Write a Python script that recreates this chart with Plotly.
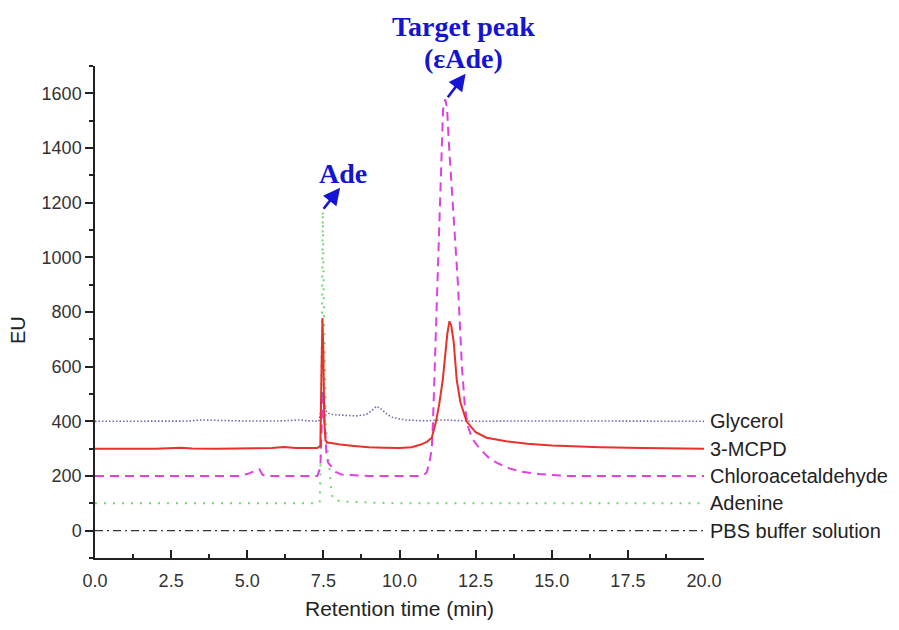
import plotly.graph_objects as go

# ---- data (time in min, signal in EU) ----
pbs_t = [0, 20]
pbs_v = [0, 0]

adenine_t = [0, 7.3, 7.38, 7.42, 7.45, 7.48, 7.52, 7.58, 7.65, 7.72, 7.78, 7.85, 8.2, 9.0, 10.0, 20]
adenine_v = [100, 100, 103, 300, 700, 1170, 800, 400, 280, 200, 130, 112, 106, 103, 100, 100]

chloro_t = [0, 4.7, 5.0, 5.2, 5.4, 5.5, 5.6, 7.3, 7.4, 7.45, 7.5, 7.55, 7.6, 7.65, 7.75, 7.9, 8.1, 9.0,
            10.0, 10.6, 10.8, 10.9, 11.0, 11.06, 11.1, 11.16, 11.22, 11.3, 11.38, 11.43, 11.5, 11.56,
            11.62, 11.7, 11.8, 11.92, 12.05, 12.15, 12.25, 12.4, 12.6, 12.9, 13.2, 13.6, 14.0, 14.6,
            15.5, 20]
chloro_v = [200, 200, 207, 215, 225, 205, 200, 200, 230, 400, 500, 380, 280, 250, 235, 215, 205, 200,
            200, 200, 203, 215, 260, 300, 400, 600, 800, 1050, 1300, 1540, 1578, 1550,
            1420, 1290, 1120, 900, 600, 450, 380, 335, 305, 270, 248, 228, 216, 207,
            200, 200]

mcpd_t = [0, 2.0, 2.8, 3.2, 4.0, 5.0, 5.8, 6.2, 6.6, 7.3, 7.4, 7.44, 7.47, 7.5, 7.53, 7.57, 7.62,
          7.7, 8.0, 8.5, 9.0, 9.5, 10.0, 10.4, 10.7, 10.9, 11.06, 11.2, 11.3, 11.42, 11.5, 11.57,
          11.64, 11.7, 11.78, 11.88, 12.0, 12.2, 12.5, 12.86, 13.5, 14.2, 15.0, 16.6, 18.0, 20]
mcpd_v = [300, 300, 303, 301, 300, 300, 302, 306, 302, 302, 310, 600, 778, 650, 400, 330, 322,
          322, 316, 310, 305, 303, 302, 305, 315, 325, 340, 400, 460, 551, 640, 720,
          766, 750, 690, 551, 470, 400, 360, 340, 327, 318, 312, 305, 302, 300]

glycerol_t = [0, 1, 2, 3, 3.5, 4, 5, 6, 6.7, 7, 7.35, 7.42, 7.47, 7.52, 7.58, 7.65, 7.8, 8.2, 8.6,
              8.9, 9.1, 9.25, 9.4, 9.6, 9.8, 10.2, 10.8, 11.4, 12, 12.6, 13.5, 15, 17, 20]
glycerol_v = [400, 401, 400, 401, 405, 403, 401, 401, 405, 402, 400, 440, 508, 470, 440, 430, 425,
              422, 420, 425, 440, 455, 445, 425, 413, 405, 402, 405, 403, 400, 401, 400, 401, 400]

series_names = ["Glycerol", "3-MCPD", "Chloroacetaldehyde", "Adenine", "PBS buffer solution"]
series_baselines = [400, 300, 200, 100, 0]

x_tick_vals = [0, 2.5, 5, 7.5, 10, 12.5, 15, 17.5, 20]
x_tick_text = ["0.0", "2.5", "5.0", "7.5", "10.0", "12.5", "15.0", "17.5", "20.0"]
y_tick_vals = [0, 200, 400, 600, 800, 1000, 1200, 1400, 1600]

fig = go.Figure()

fig.add_trace(go.Scatter(x=pbs_t, y=pbs_v, mode="lines",
                         line=dict(color="#333333", width=1.2, dash="8px,4px,2px,4px")))
fig.add_trace(go.Scatter(x=adenine_t, y=adenine_v, mode="lines",
                         line=dict(color="#6fd86f", width=2, dash="2px,7px")))
fig.add_trace(go.Scatter(x=chloro_t, y=chloro_v, mode="lines",
                         line=dict(color="#e040e0", width=2, dash="9px,6px")))
fig.add_trace(go.Scatter(x=glycerol_t, y=glycerol_v, mode="lines",
                         line=dict(color="#7a62b8", width=1.6, dash="1.5px,2px")))
fig.add_trace(go.Scatter(x=mcpd_t, y=mcpd_v, mode="lines",
                         line=dict(color="#e8312a", width=2)))

annotations = []
# right-hand series labels
for name, base in zip(series_names, series_baselines):
    annotations.append(dict(x=1, xref="paper", y=base, yref="y", text=name, showarrow=False,
                            xanchor="left", yanchor="middle", xshift=4,
                            font=dict(family="Liberation Sans, Arial", size=20, color="#222222")))

blue = "#1414d2"
serif = "Liberation Serif, Times New Roman"
# peak labels
annotations.append(dict(x=8.14, y=1308, text="<b>Ade</b>", showarrow=False,
                        xanchor="center", yanchor="middle",
                        font=dict(family=serif, size=28, color=blue)))
annotations.append(dict(x=12.09, y=1.081, yref="paper", text="<b>Target peak</b>", showarrow=False,
                        xanchor="center", yanchor="middle",
                        font=dict(family=serif, size=28, color=blue)))
annotations.append(dict(x=12.09, y=1.016, yref="paper", text="<b>(εAde)</b>", showarrow=False,
                        xanchor="center", yanchor="middle",
                        font=dict(family=serif, size=28, color=blue)))
# arrows from peak tops towards labels
annotations.append(dict(x=8.05, y=1255, ax=7.47, ay=1172, axref="x", ayref="y", text="",
                        showarrow=True, arrowhead=2, arrowsize=1.3, arrowwidth=2.6, arrowcolor=blue))
annotations.append(dict(x=12.17, y=1672, ax=11.55, ay=1580, axref="x", ayref="y", text="",
                        showarrow=True, arrowhead=2, arrowsize=1.3, arrowwidth=2.6, arrowcolor=blue))
# axis titles
annotations.append(dict(x=0, xref="paper", y=734, yref="y", text="EU", textangle=-90,
                        showarrow=False, xshift=-77, xanchor="center", yanchor="middle",
                        font=dict(family="Liberation Sans, Arial", size=20, color="#222222")))
annotations.append(dict(x=0.5, xref="paper", y=0, yref="paper", text="Retention time (min)",
                        showarrow=False, yshift=-50, yanchor="middle",
                        font=dict(family="Liberation Sans, Arial", size=21, color="#222222")))

fig.update_layout(
    width=891, height=622,
    margin=dict(l=87, r=195, t=58, b=72),
    paper_bgcolor="white", plot_bgcolor="white",
    showlegend=False,
    annotations=annotations,
    font=dict(family="Liberation Sans, Arial", color="#333333"),
)

fig.update_xaxes(range=[0, 20], tickvals=x_tick_vals, ticktext=x_tick_text,
                 showgrid=False, zeroline=False, showline=True, linecolor="#222222", linewidth=1.5,
                 ticks="inside", ticklen=8, tickwidth=1.5, tickcolor="#222222",
                 tickfont=dict(size=18, color="#333333"), ticklabelstandoff=6,
                 minor=dict(dtick=1.25, tick0=0, ticks="inside", ticklen=4, tickwidth=1.5,
                            tickcolor="#222222", showgrid=False))
fig.update_yaxes(range=[-100, 1700], tickvals=y_tick_vals,
                 showgrid=False, zeroline=False, showline=True, linecolor="#222222", linewidth=1.5,
                 ticks="outside", ticklen=8, tickwidth=1.5, tickcolor="#222222",
                 tickfont=dict(size=18, color="#333333"),
                 minor=dict(dtick=100, tick0=0, ticks="outside", ticklen=4, tickwidth=1.5,
                            tickcolor="#222222", showgrid=False))

fig.write_html("out.html")
